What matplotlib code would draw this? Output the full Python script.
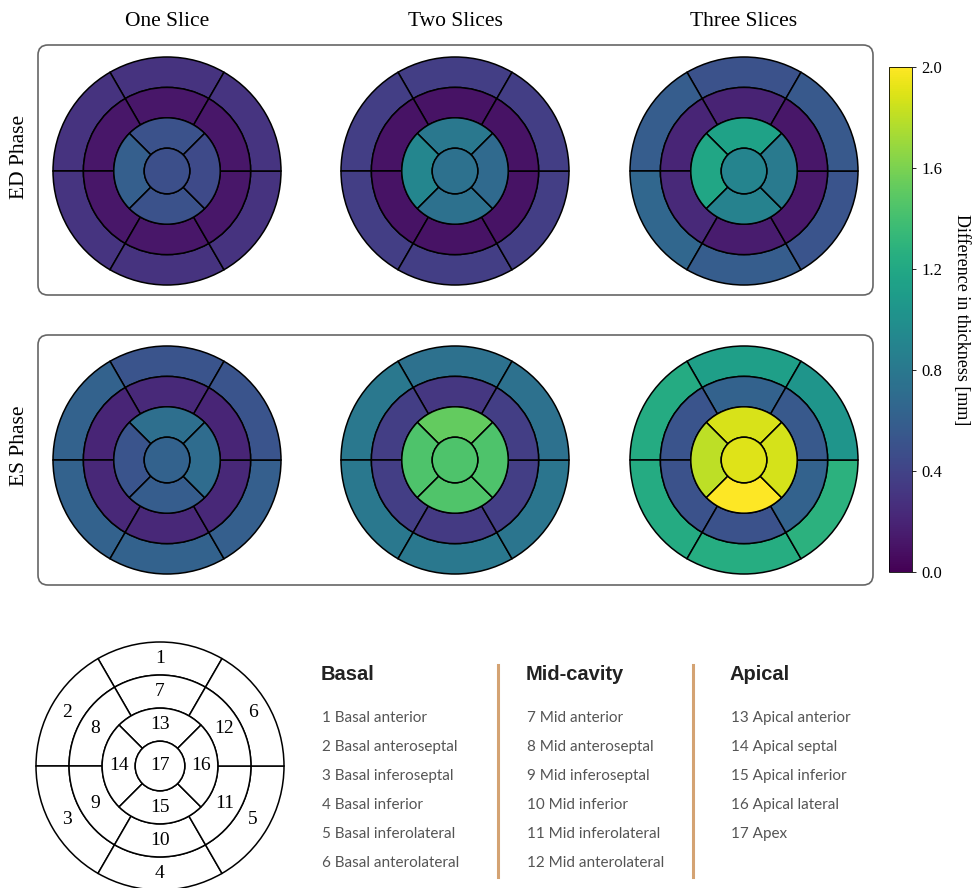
import numpy as np
import matplotlib
matplotlib.use("Agg")
import matplotlib.pyplot as plt
from matplotlib.patches import Wedge, Circle, FancyBboxPatch
from matplotlib.colors import Normalize
from matplotlib.cm import ScalarMappable

# thickness differences [mm], AHA segments 1..17
ed_one = [0.29, 0.29, 0.30, 0.29, 0.29, 0.30,
          0.12, 0.12, 0.12, 0.12, 0.12, 0.12,
          0.50, 0.60, 0.50, 0.45, 0.48]
ed_two = [0.36, 0.36, 0.36, 0.36, 0.36, 0.36,
          0.10, 0.10, 0.10, 0.10, 0.10, 0.10,
          0.80, 0.92, 0.74, 0.68, 0.74]
ed_three = [0.50, 0.58, 0.66, 0.58, 0.52, 0.55,
            0.19, 0.21, 0.23, 0.15, 0.13, 0.12,
            1.15, 1.18, 0.88, 0.82, 0.90]
es_one = [0.52, 0.62, 0.62, 0.62, 0.60, 0.52,
          0.23, 0.21, 0.22, 0.22, 0.22, 0.21,
          0.72, 0.52, 0.58, 0.70, 0.62]
es_two = [0.74, 0.80, 0.80, 0.80, 0.78, 0.74,
          0.32, 0.36, 0.36, 0.34, 0.36, 0.36,
          1.52, 1.44, 1.45, 1.44, 1.44]
es_three = [1.12, 1.22, 1.22, 1.24, 1.28, 1.04,
            0.62, 0.52, 0.50, 0.50, 0.62, 0.55,
            1.88, 1.80, 2.00, 1.87, 1.90]

col_titles = ["One Slice", "Two Slices", "Three Slices"]
row_titles = ["ED Phase", "ES Phase"]
grid = [[ed_one, ed_two, ed_three], [es_one, es_two, es_three]]

basal_names = ["1 Basal anterior", "2 Basal anteroseptal", "3 Basal inferoseptal",
               "4 Basal inferior", "5 Basal inferolateral", "6 Basal anterolateral"]
mid_names = ["7 Mid anterior", "8 Mid anteroseptal", "9 Mid inferoseptal",
             "10 Mid inferior", "11 Mid inferolateral", "12 Mid anterolateral"]
apical_names = ["13 Apical anterior", "14 Apical septal", "15 Apical inferior",
                "16 Apical lateral", "17 Apex"]

W, H = 973, 888
r = np.linspace(0.2, 1, 4)
cmap = plt.get_cmap("viridis")
norm = Normalize(vmin=0, vmax=2.0)
serif = "Liberation Serif"


def segments():
    # (r_in, r_out, theta1, theta2) for segments 1..16
    segs = []
    for k in range(6):
        segs.append((r[2], r[3], 60 + 60 * k, 120 + 60 * k))
    for k in range(6):
        segs.append((r[1], r[2], 60 + 60 * k, 120 + 60 * k))
    for k in range(4):
        segs.append((r[0], r[1], 45 + 90 * k, 135 + 90 * k))
    return segs


def bullseye(ax, data=None, labels=False):
    for i, (r0, r1, t0, t1) in enumerate(segments()):
        fc = "white" if data is None else cmap(norm(data[i]))
        ax.add_patch(Wedge((0, 0), r1, t0, t1, width=r1 - r0, facecolor=fc,
                           edgecolor="black", linewidth=1.1))
        if labels:
            rm = (r0 + r1) / 2
            tm = np.deg2rad((t0 + t1) / 2)
            ax.text(rm * np.cos(tm), rm * np.sin(tm), str(i + 1), ha="center",
                    va="center", fontsize=14, family=serif)
    fc = "white" if data is None else cmap(norm(data[16]))
    ax.add_patch(Circle((0, 0), r[0], facecolor=fc, edgecolor="black", linewidth=1.1))
    if labels:
        ax.text(0, 0, "17", ha="center", va="center", fontsize=14, family=serif)
    ax.set_xlim(-1.05, 1.05)
    ax.set_ylim(-1.05, 1.05)
    ax.set_aspect("equal")
    ax.axis("off")


def px_axes(fig, cx, cy, rad):
    half = rad * 1.05
    return fig.add_axes([(cx - half) / W, 1 - (cy + half) / H, 2 * half / W, 2 * half / H])


fig = plt.figure(figsize=(W / 100, H / 100), dpi=100)

# background layer in pixel coordinates
bg = fig.add_axes([0, 0, 1, 1], zorder=-1)
bg.set_xlim(0, W)
bg.set_ylim(H, 0)
bg.axis("off")
for top in [45, 335]:
    bg.add_patch(FancyBboxPatch((38, top), 835, 250, boxstyle="round,pad=0,rounding_size=10",
                                facecolor="white", edgecolor="#666666", linewidth=1.2))
for x in [498, 693]:
    bg.plot([x, x], [665, 877], color="#d4a373", linewidth=2.2)

col_x = [167, 455, 744]
row_y = [171, 460]
for j, t in enumerate(col_titles):
    fig.text(col_x[j] / W, 1 - 21 / H, t, ha="center", va="center", fontsize=15.5, family=serif)
for i, t in enumerate(row_titles):
    fig.text(20 / W, 1 - (row_y[i] - 14) / H, t, ha="center", va="center", rotation=90,
             fontsize=15.5, family=serif)
    for j in range(3):
        ax = px_axes(fig, col_x[j], row_y[i], 114)
        bullseye(ax, grid[i][j])

# colorbar
cax = fig.add_axes([889 / W, 1 - 572 / H, 23 / W, 505 / H])
cb = fig.colorbar(ScalarMappable(norm=norm, cmap=cmap), cax=cax,
                  ticks=[0, 0.4, 0.8, 1.2, 1.6, 2.0], format="%.1f")
cb.outline.set_linewidth(0.6)
cax.tick_params(labelsize=12, length=3, width=0.6)
for lab in cax.get_yticklabels():
    lab.set_family(serif)
cb.set_label("Difference in thickness [mm]", rotation=270, labelpad=20, fontsize=13, family=serif)

# reference bullseye
ax = px_axes(fig, 160, 766, 124)
bullseye(ax, None, labels=True)

heads = [("Basal", 321, basal_names), ("Mid-cavity", 526, mid_names), ("Apical", 730, apical_names)]
for name, x, items in heads:
    fig.text(x / W, 1 - 675 / H, name, ha="left", va="center", fontsize=14.5,
             fontweight="bold", family="Liberation Sans", color="#222222")
    for k, it in enumerate(items):
        fig.text((x + 1) / W, 1 - (718 + 29 * k) / H, it, ha="left", va="center",
                 fontsize=11, family="Lato", color="#555555")

fig.savefig("out.png", dpi=100)
